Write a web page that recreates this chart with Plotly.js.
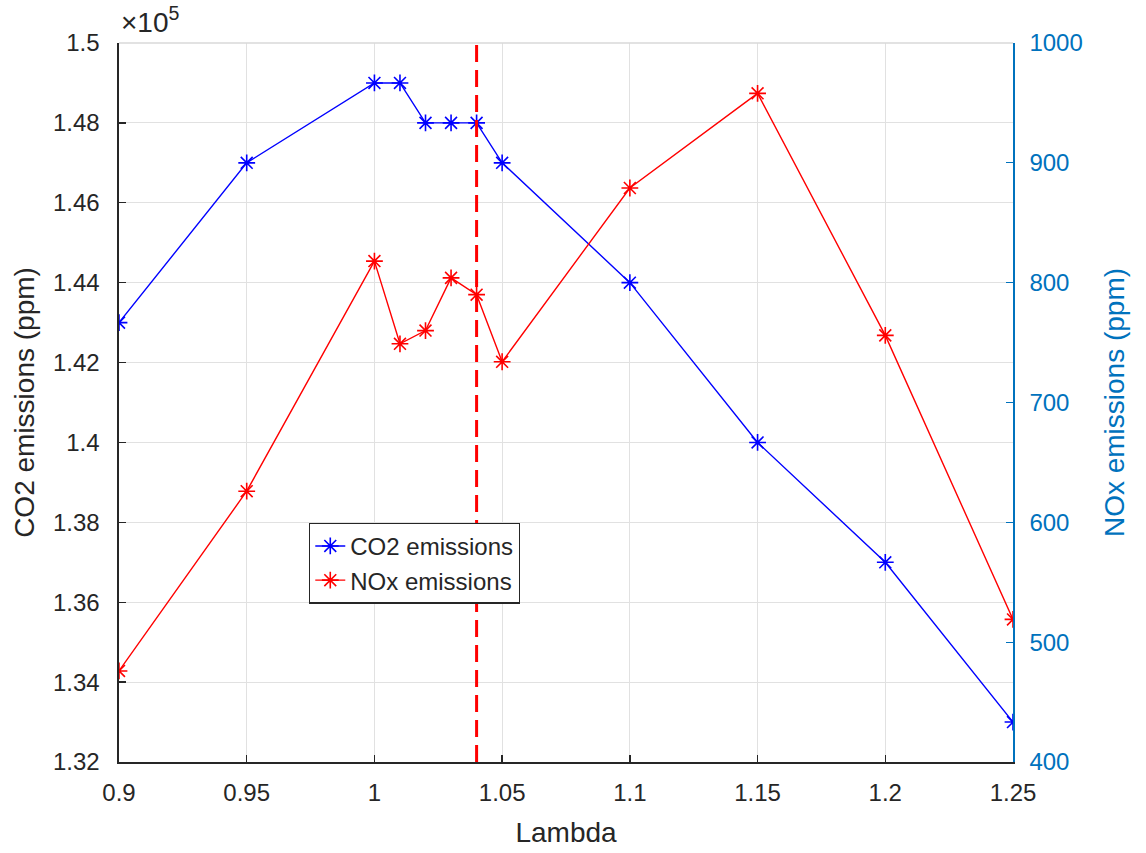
<!DOCTYPE html>
<html>
<head>
<meta charset="utf-8">
<script src="https://cdn.plot.ly/plotly-3.0.1.min.js"></script>
<style>
html,body{margin:0;padding:0;background:#fff;}
#chart{width:1146px;height:853px;}
</style>
</head>
<body>
<div id="chart"></div>
<script>
// Data
const lambda = [0.90, 0.95, 1.00, 1.01, 1.02, 1.03, 1.04, 1.05, 1.10, 1.15, 1.20, 1.25];
const co2 = [143000, 147000, 149000, 149000, 148000, 148000, 148000, 147000, 144000, 140000, 137000, 133000];
const nox = [476, 626, 818, 749, 760, 804, 790, 734, 879, 958, 756, 519];
const refLambda = 1.04;
const co2Scale = 1e5;

const xTicks = [0.9, 0.95, 1, 1.05, 1.1, 1.15, 1.2, 1.25];
const leftTicks = [1.32, 1.34, 1.36, 1.38, 1.4, 1.42, 1.44, 1.46, 1.48, 1.5];
const rightTicks = [400, 500, 600, 700, 800, 900, 1000];

const dark = '#262626';
const rightColor = '#0072BD';
const font = 'Liberation Sans, Arial, sans-serif';
const tickSize = 24;
const titleSize = 28;

const traces = [
  {
    x: lambda, y: co2.map(v => v / co2Scale),
    name: 'CO2 emissions', type: 'scatter', mode: 'lines+markers',
    line: {color: '#0000FF', width: 1.4},
    marker: {symbol: 'asterisk-open', size: 14, color: '#0000FF', line: {color: '#0000FF', width: 1.6}},
    xaxis: 'x', yaxis: 'y'
  },
  {
    x: lambda, y: nox,
    name: 'NOx emissions', type: 'scatter', mode: 'lines+markers',
    line: {color: '#FF0000', width: 1.4},
    marker: {symbol: 'asterisk-open', size: 14, color: '#FF0000', line: {color: '#FF0000', width: 1.6}},
    xaxis: 'x', yaxis: 'y2'
  }
];

const layout = {
  width: 1146, height: 853,
  margin: {l: 119, r: 133, t: 43, b: 91, pad: 0},
  paper_bgcolor: '#fff', plot_bgcolor: '#fff',
  font: {family: font, size: tickSize, color: dark},
  showlegend: true,
  legend: {
    x: 0.2125, y: 0.333, xanchor: 'left', yanchor: 'top',
    bgcolor: '#fff', bordercolor: dark, borderwidth: 1.3,
    font: {family: font, size: 24, color: dark},
    tracegroupgap: 0
  },
  xaxis: {
    range: [0.9, 1.25], tickvals: xTicks,
    ticks: 'inside', ticklen: 7, tickcolor: dark, tickwidth: 1.3,
    ticklabelstandoff: 9,
    showline: true, linecolor: dark, linewidth: 1.6, mirror: false,
    showgrid: true, gridcolor: '#e1e1e1', gridwidth: 1,
    zeroline: false, automargin: false,
    tickfont: {size: tickSize, color: dark},
    title: {text: 'Lambda', font: {size: titleSize, color: dark}, standoff: 17}
  },
  yaxis: {
    range: [1.32, 1.5], tickvals: leftTicks,
    ticks: 'inside', ticklen: 7, tickcolor: dark, tickwidth: 1.3,
    ticklabelstandoff: 13,
    showline: true, linecolor: dark, linewidth: 1.6,
    showgrid: true, gridcolor: '#e1e1e1', gridwidth: 1,
    zeroline: false, automargin: false,
    tickfont: {size: tickSize, color: dark},
    title: {text: 'CO2 emissions (ppm)', font: {size: titleSize, color: dark}, standoff: 10}
  },
  yaxis2: {
    range: [400, 1000], tickvals: rightTicks,
    overlaying: 'y', side: 'right',
    ticks: 'inside', ticklen: 7, tickcolor: rightColor, tickwidth: 1.3,
    ticklabelstandoff: 10,
    showline: true, linecolor: rightColor, linewidth: 1.6,
    showgrid: false, zeroline: false, automargin: false,
    tickfont: {size: tickSize, color: rightColor},
    title: {text: 'NOx emissions (ppm)', font: {size: titleSize, color: rightColor}, standoff: 22}
  },
  shapes: [
    {type: 'line', xref: 'x', yref: 'paper', x0: refLambda, x1: refLambda, y0: 0, y1: 1,
     line: {color: '#FF0000', width: 3, dash: '17px,8px'}},
    {type: 'line', xref: 'paper', yref: 'paper', x0: 0, x1: 1, y0: 1, y1: 1,
     line: {color: '#d9d9d9', width: 1.5}}
  ],
  annotations: [
    {xref: 'paper', yref: 'paper', x: 0, y: 1, xanchor: 'left', yanchor: 'bottom',
     xshift: 0, yshift: 3, showarrow: false,
     text: '×10<sup>5</sup>', font: {family: font, size: 28, color: dark}}
  ]
};

Plotly.newPlot('chart', traces, layout, {displayModeBar: false, staticPlot: true});
</script>
</body>
</html>
